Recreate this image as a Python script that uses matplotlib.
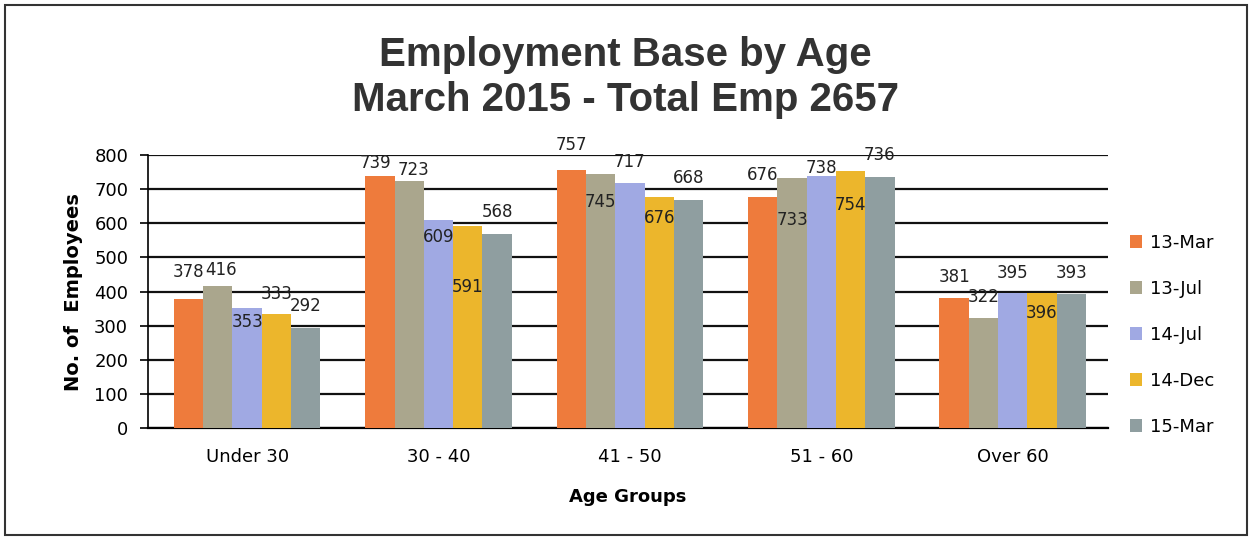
import matplotlib.pyplot as plt
import matplotlib
import numpy as np
from matplotlib.patches import Rectangle

matplotlib.rcParams.update({'font.family': 'DejaVu Sans', 'font.size': 12})

groups = ['Under 30', '30 - 40', '41 - 50', '51 - 60', 'Over 60']
periods = ['13-Mar', '13-Jul', '14-Jul', '14-Dec', '15-Mar']

mar13 = [378, 739, 757, 676, 381]
jul13 = [416, 723, 745, 733, 322]
jul14 = [353, 609, 717, 738, 395]
dec14 = [333, 591, 676, 754, 396]
mar15 = [292, 568, 668, 736, 393]

colors = ['#ee7b3c', '#aaa68d', '#a0a9e3', '#ecb62c', '#8f9ea0']

# where each value label sits relative to the top of its bar (pixels, + is up)
lab_dy = [[27, 13, 25, 22, 21],
          [16, 11, -28, -42, 21],
          [-14, -17, 21, 8, 20],
          [20, -61, -21, -34, -20],
          [22, 22, 22, 22, 21]]
lab_dx = [[0, -5, 0, 0, 0],
          [3, 4, 0, 0, 0],
          [0, 0, 0, 0, 0],
          [0, 0, 0, 0, 0],
          [0, 0, 0, 0, 0]]

dpi = 100
fig = plt.figure(figsize=(12.51, 5.40), dpi=dpi)
ax = fig.add_axes([0.118, 0.207, 0.768, 0.506])

series = [mar13, jul13, jul14, dec14, mar15]
x = np.arange(len(groups))
w = 0.153
px2pt = 72.0 / dpi
for j, vals in enumerate(series):
    xs = x + (j - 2) * w
    ax.bar(xs, vals, width=w, color=colors[j], label=periods[j], zorder=3)
    for i, v in enumerate(vals):
        ax.annotate(str(v), (xs[i], v),
                    xytext=(lab_dx[j][i] * px2pt, lab_dy[j][i] * px2pt),
                    textcoords='offset points', ha='center', va='center',
                    fontsize=12, color='#222222', zorder=5, annotation_clip=False)

ax.set_xlim(-0.52, 4.5)
ax.set_ylim(0, 800)
ax.set_yticks(np.arange(0, 801, 100))
ax.set_xticks(x)
ax.set_xticklabels(groups, fontsize=13)
ax.tick_params(axis='y', labelsize=13, length=6, width=1.2, pad=8)
ax.tick_params(axis='x', length=0, pad=14)
ax.grid(axis='y', color='#111111', linewidth=1.6, zorder=0)
for s in ['top', 'right']:
    ax.spines[s].set_visible(False)
ax.spines['left'].set_linewidth(1.2)
ax.spines['bottom'].set_linewidth(1.6)

ax.set_ylabel('No. of  Employees', fontsize=14, fontweight='bold', labelpad=8)
ax.set_xlabel('Age Groups', fontsize=13, fontweight='bold', labelpad=16)

fig.text(0.5, 0.898, 'Employment Base by Age', ha='center', va='center',
         fontsize=29, fontweight='bold', family='Liberation Sans', color='#333333')
fig.text(0.5, 0.815, 'March 2015 - Total Emp 2657', ha='center', va='center',
         fontsize=29, fontweight='bold', family='Liberation Sans', color='#333333')

fig.legend(loc='center left', bbox_to_anchor=(0.89, 0.38), frameon=False,
           fontsize=13, handlelength=0.7, handleheight=0.7, handletextpad=0.4,
           labelspacing=1.55)

fig.patches.append(Rectangle((0.004, 0.01), 0.993, 0.98, transform=fig.transFigure,
                             fill=False, edgecolor='#333333', linewidth=1.5))

plt.savefig('out.png', dpi=dpi)
